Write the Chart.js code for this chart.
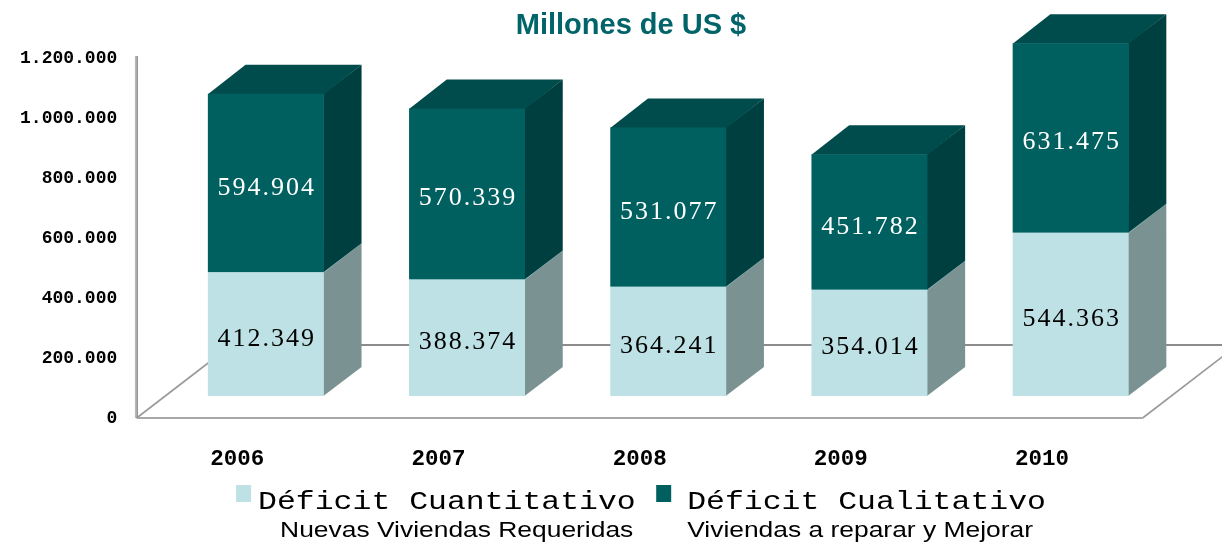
<!DOCTYPE html>
<html>
<head>
<meta charset="utf-8">
<script src="https://cdn.jsdelivr.net/npm/chart.js@4/dist/chart.umd.min.js"></script>
<style>
  html, body { margin: 0; padding: 0; background: #ffffff; }
  #wrap { width: 1222px; height: 544px; position: relative; }
</style>
</head>
<body>
<div id="wrap"><canvas id="c" width="1222" height="544"></canvas></div>
<script>
// ---- data ----
const categories = ['2006', '2007', '2008', '2009', '2010'];
const cuantitativo = [412349, 388374, 364241, 354014, 544363];
const cualitativo = [594904, 570339, 531077, 451782, 631475];
const seriesLabels = ['Déficit Cuantitativo', 'Déficit Cualitativo'];
const seriesSubtitles = ['Nuevas Viviendas Requeridas', 'Viviendas a reparar y Mejorar'];
const yTicks = [0, 200000, 400000, 600000, 800000, 1000000, 1200000];
const titleText = 'Millones de US $';

// ---- styles ----
const frontColors = ['#BDE1E4', '#006060'];
const sideColors = ['#7A9292', '#003F3F'];
const topColors = ['#9CC3C6', '#004B4B'];
const labelColors = ['#000000', '#ffffff'];

// 3D projection (pixels of depth, measured vertically; dx = depth * RATIO)
const RATIO = 1.3;
const FRONT_D = 22;   // bar plane behind floor front edge
const BAR_D = 29;     // bar depth
const FLOOR_D = 73;   // floor depth
const PLOT_TOP = 36;  // wanted top of the bar plane
const PLOT_BOTTOM = 396;

const fmt = v => String(v).replace(/\B(?=(\d{3})+(?!\d))/g, '.');

const floorAndFaces = {
  id: 'floorAndFaces',
  beforeDatasetsDraw(chart) {
    const ctx = chart.ctx, ca = chart.chartArea;
    const fx0 = ca.left - FRONT_D * RATIO, fx1 = ca.right - FRONT_D * RATIO, fy = ca.bottom + FRONT_D;
    const bx0 = fx0 + FLOOR_D * RATIO, bx1 = fx1 + FLOOR_D * RATIO, by = fy - FLOOR_D;
    ctx.save();
    ctx.lineCap = 'butt';
    ctx.strokeStyle = '#8c8c8c'; ctx.lineWidth = 2;
    ctx.beginPath(); ctx.moveTo(bx0, by); ctx.lineTo(bx1, by); ctx.stroke();
    ctx.strokeStyle = '#9a9a9a'; ctx.lineWidth = 1.6;
    ctx.beginPath(); ctx.moveTo(fx0, fy); ctx.lineTo(bx0, by); ctx.stroke();
    ctx.beginPath(); ctx.moveTo(fx1, fy); ctx.lineTo(bx1, by); ctx.stroke();
    ctx.strokeStyle = '#a8a8a8'; ctx.lineWidth = 2;
    ctx.beginPath(); ctx.moveTo(fx0, fy); ctx.lineTo(fx1, fy); ctx.stroke();
    const yTop = chart.scales.y.getPixelForValue(yTicks[yTicks.length - 1]) + FRONT_D - 2;
    ctx.strokeStyle = '#b8b8b8'; ctx.lineWidth = 1.5;
    ctx.beginPath(); ctx.moveTo(fx0 - 1, yTop); ctx.lineTo(fx0 - 1, fy); ctx.stroke();
    ctx.strokeStyle = '#8a8a8a'; ctx.lineWidth = 1.5;
    ctx.beginPath(); ctx.moveTo(fx0 + 0.5, yTop); ctx.lineTo(fx0 + 0.5, fy); ctx.stroke();

    const dx = BAR_D * RATIO, dy = BAR_D;
    chart.data.datasets.forEach((ds, di) => {
      const meta = chart.getDatasetMeta(di);
      meta.data.forEach(el => {
        const p = el.getProps(['x', 'y', 'base', 'width'], true);
        const l = p.x - p.width / 2, r = p.x + p.width / 2;
        const t = Math.min(p.y, p.base), b = Math.max(p.y, p.base);
        ctx.fillStyle = sideColors[di];
        ctx.beginPath();
        ctx.moveTo(r - 0.5, b); ctx.lineTo(r - 0.5, t); ctx.lineTo(r + dx, t - dy); ctx.lineTo(r + dx, b - dy);
        ctx.closePath(); ctx.fill();
        ctx.fillStyle = topColors[di];
        ctx.beginPath();
        ctx.moveTo(l, t + 0.5); ctx.lineTo(r, t + 0.5); ctx.lineTo(r + dx, t - dy); ctx.lineTo(l + dx, t - dy);
        ctx.closePath(); ctx.fill();
      });
    });
    ctx.restore();
  },
  afterDatasetsDraw(chart) {
    const ctx = chart.ctx;
    ctx.save();
    ctx.font = '26px "Liberation Serif"';
    ctx.textAlign = 'center';
    ctx.textBaseline = 'alphabetic';
    try { ctx.letterSpacing = '2px'; } catch (e) {}
    chart.data.datasets.forEach((ds, di) => {
      const meta = chart.getDatasetMeta(di);
      meta.data.forEach((el, i) => {
        const p = el.getProps(['x', 'y', 'base'], true);
        const mid = (p.y + p.base) / 2;
        ctx.fillStyle = labelColors[di];
        ctx.fillText(fmt(ds.data[i]), p.x + 1, mid + 11.5);
      });
    });
    ctx.restore();
  },
  afterDraw(chart) {
    const ctx = chart.ctx;
    ctx.save();
    ctx.font = 'bold 29px "Liberation Sans"';
    ctx.fillStyle = '#006469';
    ctx.textAlign = 'center';
    ctx.textBaseline = 'alphabetic';
    ctx.fillText(titleText, chart.width / 2 + 20, 34);

    const sx = 1.21;
    const mainFont = '26px "Liberation Mono"';
    const subFont = '22px "Liberation Sans"';
    const boxW = 15, boxH = 17;
    const textGaps = [7, 16], itemGap = 20.5, subOffsets = [22, 0];
    ctx.font = mainFont;
    const widths = seriesLabels.map(t => ctx.measureText(t).width * sx);
    let total = 0;
    widths.forEach((w, i) => { total += boxW + textGaps[i] + w + (i < widths.length - 1 ? itemGap : 0); });
    let x = chart.width / 2 + 30 - total / 2;
    ctx.textAlign = 'left';
    seriesLabels.forEach((t, i) => {
      ctx.fillStyle = frontColors[i];
      ctx.fillRect(x, 485, boxW, boxH);
      const tx = x + boxW + textGaps[i];
      ctx.fillStyle = '#000';
      ctx.font = mainFont;
      ctx.save(); ctx.translate(tx, 509); ctx.scale(sx, 1); ctx.fillText(t, 0, 0); ctx.restore();
      ctx.font = subFont;
      ctx.save(); ctx.translate(tx + subOffsets[i], 537); ctx.scale(1.2, 1); ctx.fillText(seriesSubtitles[i], 0, 0); ctx.restore();
      x = tx + widths[i] + itemGap;
    });
    ctx.restore();
  }
};

// make the plot area exactly the wanted box, whatever padding the layout adds
const fixArea = {
  id: 'fixArea',
  afterLayout(chart) {
    const ca = chart.chartArea;
    if (Math.abs(ca.top - PLOT_TOP) > 0.5 || Math.abs(ca.bottom - PLOT_BOTTOM) > 0.5) {
      ca.top = PLOT_TOP; ca.bottom = PLOT_BOTTOM; ca.height = PLOT_BOTTOM - PLOT_TOP;
      const y = chart.scales.y;
      y.top = PLOT_TOP; y.bottom = PLOT_BOTTOM; y.height = PLOT_BOTTOM - PLOT_TOP;
      y.configure();
    }
  }
};

new Chart(document.getElementById('c'), {
  type: 'bar',
  data: {
    labels: categories,
    datasets: [
      { label: seriesLabels[0], data: cuantitativo, backgroundColor: frontColors[0] },
      { label: seriesLabels[1], data: cualitativo, backgroundColor: frontColors[1] }
    ]
  },
  options: {
    responsive: false,
    animation: false,
    events: [],
    layout: { padding: { top: PLOT_TOP, right: 50.75, left: 0, bottom: 0 } },
    datasets: {
      bar: { borderWidth: 0, barPercentage: 0.5764, categoryPercentage: 1.0, clip: false }
    },
    plugins: {
      legend: { display: false },
      title: { display: false },
      tooltip: { enabled: false }
    },
    scales: {
      x: {
        stacked: true,
        offset: true,
        grid: { display: false, drawTicks: false },
        border: { display: false },
        ticks: {
          labelOffset: -FRONT_D * RATIO,
          padding: 50,
          color: '#000',
          font: { family: 'Liberation Mono', size: 22.5, weight: 'bold' }
        },
        afterFit: s => { s.height = 544 - PLOT_BOTTOM; }
      },
      y: {
        stacked: true,
        min: yTicks[0],
        max: yTicks[yTicks.length - 1],
        afterBuildTicks: s => { s.ticks = yTicks.map(v => ({ value: v })); },
        grid: { display: false, drawTicks: false },
        border: { display: false },
        ticks: {
          labelOffset: FRONT_D,
          padding: 48,
          color: '#000',
          font: { family: 'Liberation Mono', size: 18, weight: 'bold' },
          callback: v => fmt(v)
        },
        afterFit: s => { s.width = 165.25; }
      }
    }
  },
  plugins: [fixArea, floorAndFaces]
});
</script>
</body>
</html>
